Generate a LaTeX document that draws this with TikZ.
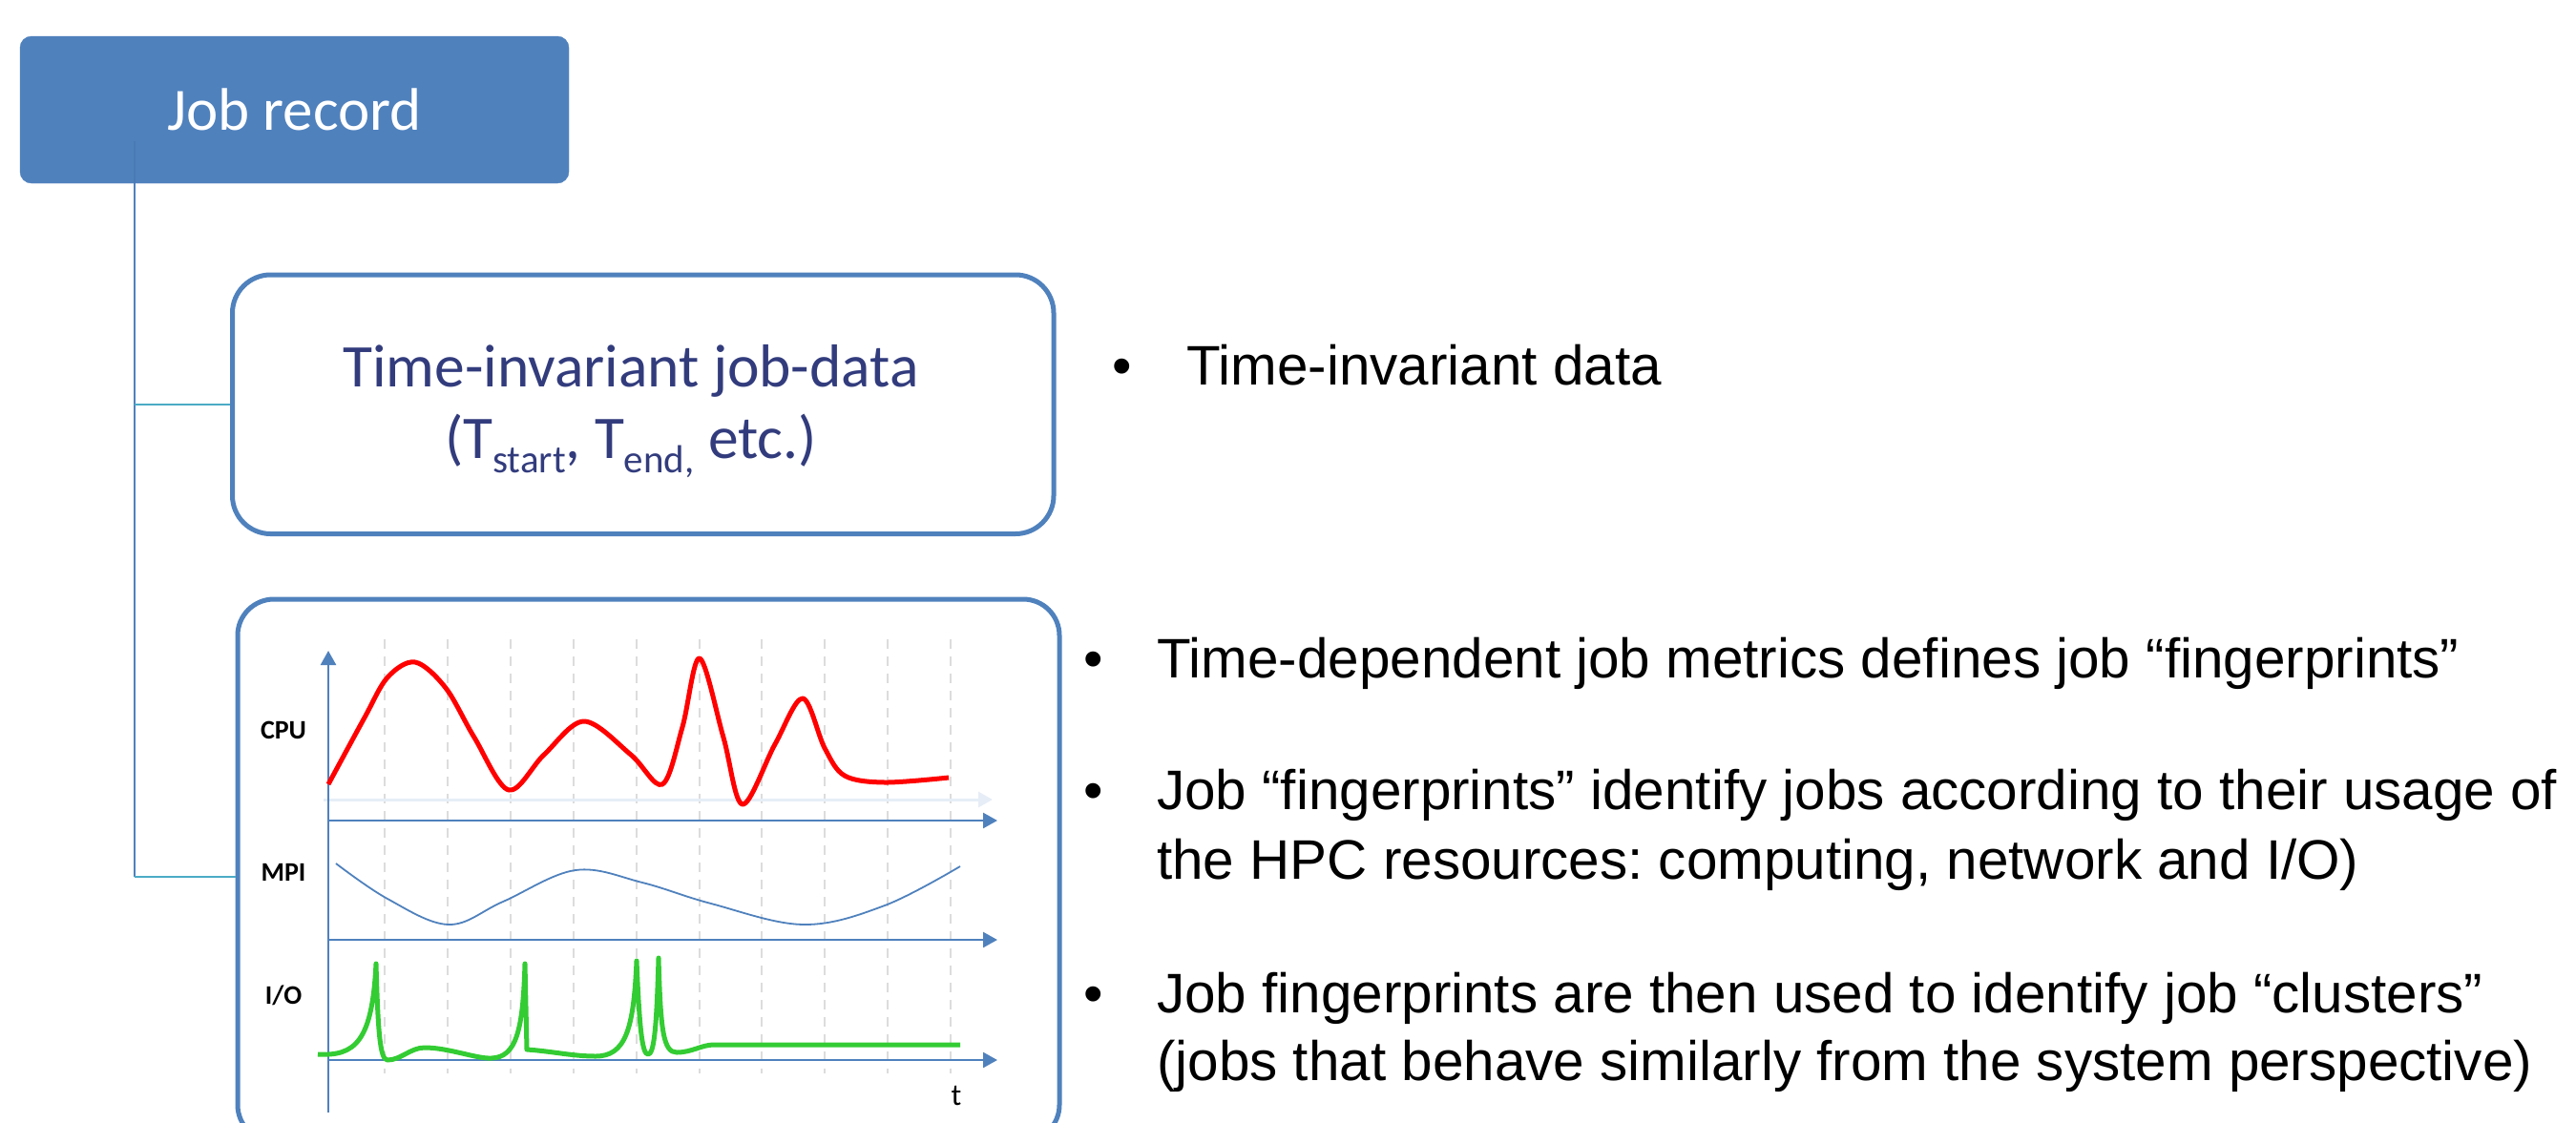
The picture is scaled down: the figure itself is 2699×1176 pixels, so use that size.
\documentclass[tikz,border=0pt]{standalone}
\usepackage{fontspec}
\setmainfont{Liberation Sans}
\newfontfamily\calfont{Carlito}
\usetikzlibrary{arrows.meta}
\definecolor{ofblue}{HTML}{4F81BD}
\definecolor{ofteal}{HTML}{4BACC6}
\definecolor{navytxt}{RGB}{50,60,125}
\definecolor{gridgray}{HTML}{DCDCDC}
\definecolor{faintblue}{HTML}{E6EDF6}
\definecolor{iogreen}{HTML}{33CC33}
\frenchspacing
\begin{document}
\begin{tikzpicture}[x=1pt,y=-1pt,
  jrbox/.style={fill=ofblue, draw=ofblue, rounded corners=12pt, minimum width=575pt, minimum height=154pt, inner sep=0pt, text=white, font=\calfont\fontsize{63}{74}\selectfont},
  framebox/.style={draw=ofblue, line width=5pt, inner sep=0pt},
  titext/.style={anchor=base, inner sep=0pt, text=navytxt, font=\calfont\fontsize{63.5}{75}\selectfont},
  trunk/.style={draw=ofblue, line width=2pt},
  branch/.style={draw=ofteal, line width=2.2pt},
  axis/.style={draw=ofblue, line width=2.5pt, -{Triangle[length=15pt,width=16pt]}},
  faintaxis/.style={draw=faintblue, line width=3pt, -{Triangle[length=15pt,width=16pt]}},
  griddash/.style={draw=gridgray, line width=2pt, dash pattern=on 10pt off 8pt},
  chlabel/.style={inner sep=0pt, font=\calfont\bfseries\fontsize{28}{32}\selectfont},
  bul/.style={anchor=base, inner sep=0pt, font=\fontsize{58.4}{70}\selectfont},
  btxt/.style={anchor=base west, inner sep=0pt, font=\fontsize{58.4}{70}\selectfont}
]
\useasboundingbox (0,0) rectangle (2699,1176);
\clip (0,0) rectangle (2699,1176);

% boxes
\node[framebox, rounded corners=40pt, minimum width=860.5pt, minimum height=271.5pt] (ti) at (673.75,423.75) {};
\node[framebox, rounded corners=38pt, minimum width=861pt, minimum height=568pt] (chart) at (679.5,912) {};

% connectors
\coordinate (trunktop) at (141,148);
\coordinate (trunkbot) at (141,919);
\coordinate (tijoint) at (141,424);
\draw[trunk] (trunktop) -- (trunkbot);
\draw[branch] (tijoint) -- (tijoint -| ti.west);
\draw[branch] (trunkbot) -- (trunkbot -| chart.west);

\node[jrbox] (jr) at (308.5,115) {Job record};
\draw[draw=ofblue!85!black, line width=1.5pt, opacity=0.35] (trunktop) -- (jr.south -| trunktop);

% time-invariant text
\node[titext] (ti1) at (661,405) {Time-invariant job-data};
\node[titext] (ti2) at (661,480) {(T\raisebox{-15pt}{\fontsize{41}{41}\selectfont start}, T\raisebox{-15pt}{\fontsize{41}{41}\selectfont end,} etc.)};

% chart grid
\foreach \i in {0,...,9}
  \draw[griddash] ({403+65.9*\i},670) -- ({403+65.9*\i},1125);

% chart axes
\coordinate (origin) at (344,1166);
\coordinate (ytip) at (344,682);
\coordinate (cpu0) at (344,860);
\coordinate (cpu1) at (1045,860);
\coordinate (mpi0) at (344,985);
\coordinate (mpi1) at (1045,985);
\coordinate (io0) at (344,1111);
\coordinate (io1) at (1045,1111);
\coordinate (f0) at (339,838);
\coordinate (f1) at (1040,838);
\draw[faintaxis] (f0) -- (f1);
\draw[axis] (origin) -- (ytip);
\draw[axis] (cpu0) -- (cpu1);
\draw[axis] (mpi0) -- (mpi1);
\draw[axis] (io0) -- (io1);

% CPU curve
\draw[red, line width=5pt, line join=round] plot[smooth, tension=0.55] coordinates {
 (344,822) (382,752) (406,710) (435,694) (467,721) (497,773) (533,828)
 (570,791) (612,756) (661,791) (694,822) (715,762) (733,690) (758,773)
 (778,843) (812,780) (841,732) (864,784) (885,813) (927,820) (994,815)};

% MPI curve
\draw[ofblue, line width=1.8pt] plot[smooth, tension=0.6] coordinates {
 (352,905) (406,942) (470,969) (527,945) (603,912) (673,925) (745,947)
 (842,969) (927,949) (1006,908)};

% I/O curve
\draw[iogreen, line width=5pt, line join=round]
 (333,1105) .. controls (372,1107) and (390,1092) .. (394,1010)
 .. controls (396,1080) and (398,1111) .. (406,1111)
 .. controls (420,1111) and (430,1098) .. (445,1098)
 .. controls (470,1098) and (500,1110) .. (515,1109)
 .. controls (541,1108) and (548,1080) .. (550,1010)
 -- (552,1100)
 .. controls (580,1102) and (600,1107) .. (624,1107)
 .. controls (655,1107) and (664,1080) .. (667,1007)
 .. controls (670,1080) and (673,1105) .. (679,1105)
 .. controls (685,1105) and (688,1080) .. (690,1004)
 .. controls (692,1080) and (695,1103) .. (709,1103)
 .. controls (725,1103) and (735,1095) .. (748,1095)
 -- (1006,1095);

% chart labels
\node[chlabel] (cpul) at (297,765) {CPU};
\node[chlabel] (mpil) at (297,914) {MPI};
\node[chlabel] (iol) at (297,1043) {I/O};
\node[anchor=base, inner sep=0pt, font=\calfont\fontsize{32}{36}\selectfont] (tl) at (1002,1158) {t};

% bullets
\node[bul] (b0) at (1176,403) {•};
\node[btxt] (t0) at (1243,403) {Time-invariant data};
\node[bul] (b1) at (1146,710) {•};
\node[btxt] (t1) at (1212,710) {Time-dependent job metrics defines job “fingerprints”};
\node[bul] (b2) at (1146,848) {•};
\node[btxt] (t2a) at (1212,848) {Job “fingerprints” identify jobs according to their usage of};
\node[btxt] (t2b) at (1212,921) {the HPC resources: computing, network and I/O)};
\node[bul] (b3) at (1146,1061) {•};
\node[btxt] (t3a) at (1212,1061) {Job fingerprints are then used to identify job “clusters”};
\node[btxt] (t3b) at (1212,1132) {(jobs that behave similarly from the system perspective)};
\end{tikzpicture}
\end{document}
